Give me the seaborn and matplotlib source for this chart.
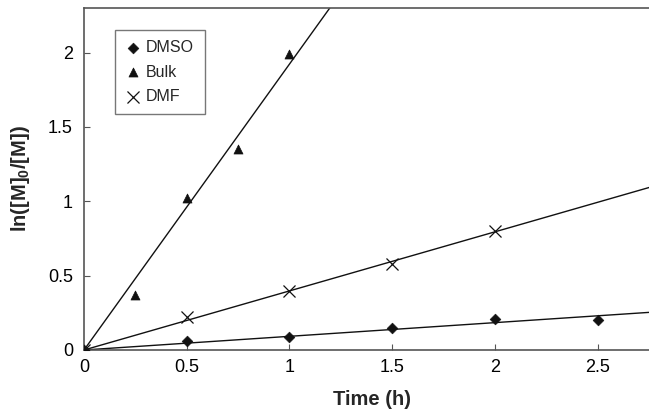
import numpy as np
import pandas as pd
import matplotlib
matplotlib.use("Agg")
import matplotlib.pyplot as plt
import seaborn as sns

dmso_t = [0, 0.5, 1, 1.5, 2, 2.5]
dmso_y = [0, 0.06, 0.09, 0.15, 0.21, 0.20]
bulk_t = [0, 0.25, 0.5, 0.75, 1]
bulk_y = [0, 0.37, 1.02, 1.35, 1.99]
dmf_t = [0, 0.5, 1, 1.5, 2]
dmf_y = [0, 0.22, 0.40, 0.58, 0.80]
x_ticks = [0, 0.5, 1, 1.5, 2, 2.5]
y_ticks = [0, 0.5, 1, 1.5, 2]

sns.set_style("ticks")
plt.rcParams['font.family'] = ['Liberation Sans', 'DejaVu Sans']
plt.rcParams['mathtext.fontset'] = 'custom'
plt.rcParams['mathtext.rm'] = 'Liberation Sans'
plt.rcParams['mathtext.bf'] = 'Liberation Sans:bold'

fig = plt.figure(figsize=(6.49, 4.09), dpi=100)
ax = fig.add_axes([84/649, 1-350/409, 1-84/649, 342/409])

def slope0(t, y):
    t = np.asarray(t, float); y = np.asarray(y, float)
    return (t*y).sum() / (t*t).sum()

xfit = np.array([0, 3.0])
for t, y in [(dmso_t, dmso_y), (bulk_t, bulk_y), (dmf_t, dmf_y)]:
    k = slope0(t, y)
    sns.lineplot(x=xfit, y=k*xfit, ax=ax, color='#111111', lw=1.0, zorder=2)

sns.scatterplot(x=dmso_t, y=dmso_y, ax=ax, marker='D', s=30, color='#111111',
                edgecolor='#111111', label='DMSO', zorder=3)
sns.scatterplot(x=bulk_t, y=bulk_y, ax=ax, marker='^', s=42, color='#111111',
                edgecolor='#111111', label='Bulk', zorder=3)
sns.scatterplot(x=dmf_t, y=dmf_y, ax=ax, marker='x', s=75, color='#111111',
                linewidth=0.9, label='DMF', zorder=3)

ax.set_xlim(0, 2.75)
ax.set_ylim(0, 2.3)
ax.set_xticks(x_ticks)
ax.set_xticklabels([f"{v:g}" for v in x_ticks])
ax.set_yticks(y_ticks)
ax.set_yticklabels([f"{v:g}" for v in y_ticks])
ax.tick_params(direction='in', length=4, width=0.8, colors='#555555',
               labelcolor='black', labelsize=13)
ax.tick_params(axis='x', pad=6.5)
ax.tick_params(axis='y', pad=8)
for s in ['left', 'bottom', 'top']:
    ax.spines[s].set_color('#555555')
    ax.spines[s].set_linewidth(1.2)
ax.spines['right'].set_visible(False)

ax.set_xlabel('Time (h)', fontsize=14.5, fontweight='bold')
ax.xaxis.set_label_coords(0.509, -0.117)
ax.set_ylabel(r'$\mathbf{ln([M]_0/[M])}$', fontsize=14.5)
ax.yaxis.set_label_coords(-0.092, 0.5)

leg = ax.legend(loc='upper left', bbox_to_anchor=(31/565, 1-22/342), frameon=True,
                fancybox=False, edgecolor='#555555', fontsize=11.5, handletextpad=0.3,
                borderpad=0.65, labelspacing=0.58, handlelength=1.0, borderaxespad=0)
leg.get_frame().set_linewidth(1.0)

fig.savefig('out.png', dpi=100)
